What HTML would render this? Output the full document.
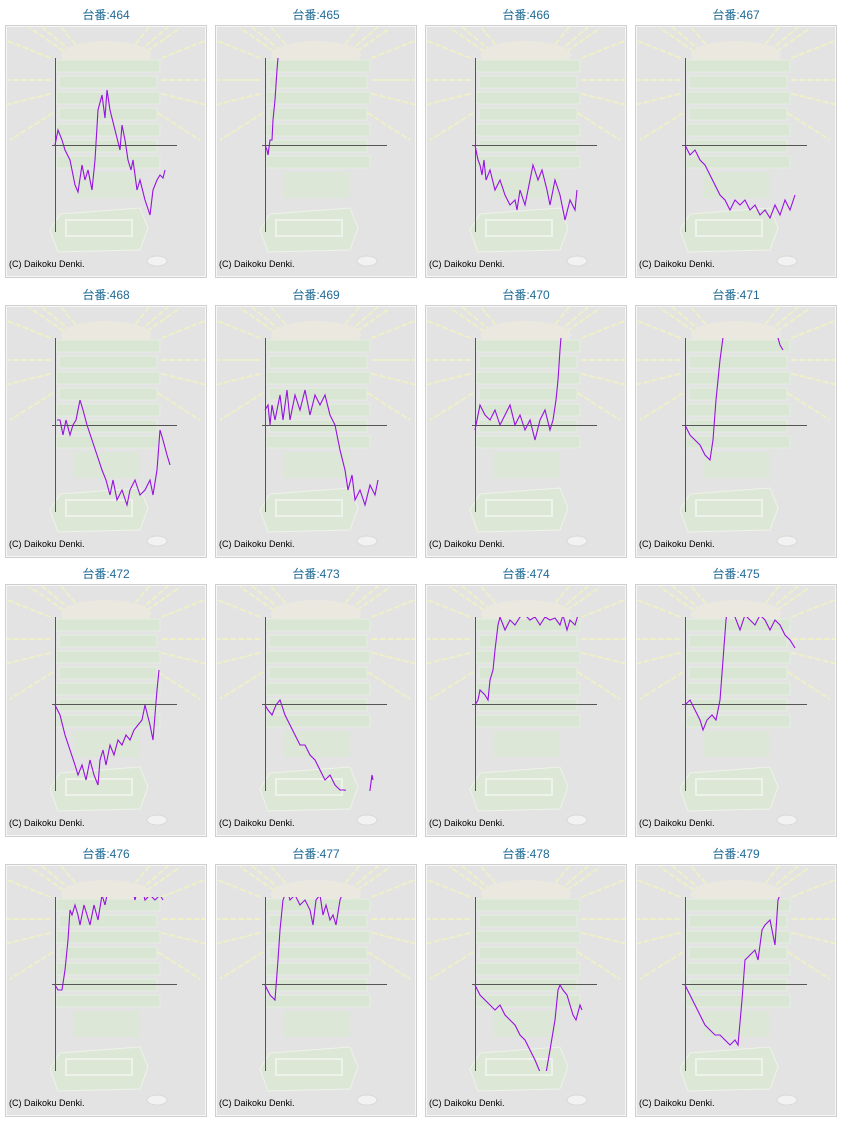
<!DOCTYPE html>
<html><head><meta charset="utf-8">
<style>
body{margin:0;background:#fff;width:842px;height:1121px;overflow:hidden;font-family:"Liberation Sans","Noto Sans CJK JP",sans-serif;}
.cell{position:absolute;width:210px;height:280px;}
.title{position:absolute;left:0;width:212px;top:6px;text-align:center;font-size:12px;color:#1f6a96;}
svg{position:absolute;left:0;top:0;}
</style></head><body>
<div id="root"></div>
<script>
const titles=["台番:464","台番:465","台番:466","台番:467","台番:468","台番:469","台番:470","台番:471","台番:472","台番:473","台番:474","台番:475","台番:476","台番:477","台番:478","台番:479"];
const seriesT=[
[0,3,7,10,15,20,23,27,30,33,37,40,43,47,50,52,55,60,65,67,70,73,76,78,82,85,90,95,98,102,105,108,110],
[0,2,3,5,7,8,10,12,13,14],
[0,3,5,7,9,11,15,20,25,30,35,40,42,45,50,55,58,63,67,72,75,80,85,90,95,100,102],
[0,5,10,15,20,25,30,35,40,45,50,55,60,65,70,75,80,85,90,95,100,105,110],
[2,5,8,11,15,18,21,25,28,32,37,42,47,51,55,58,62,67,72,75,80,85,90,95,98,102,105,108,112,115],
[0,3,5,7,10,15,18,22,25,30,35,40,45,50,55,60,65,70,75,80,83,87,90,95,100,105,110,113],
[0,5,10,15,20,25,30,35,40,45,50,55,60,65,70,75,78,81,83,85,87],
[0,5,10,15,20,25,28,31,35,39,45,60,75,90,93,95,98],
[0,5,10,15,20,23,27,31,35,39,43,45,48,51,55,59,63,67,71,75,79,83,87,90,95,98,100,102,104],
[0,3,7,11,15,20,25,30,35,40,45,50,55,60,65,70,75,80,83,90,100,105,107,108],
[0,3,5,10,13,15,18,20,23,25,30,35,40,45,50,55,60,65,70,75,80,85,88,92,95,100,103],
[0,5,10,15,18,22,27,31,35,38,41,43,47,50,55,60,65,70,75,80,85,90,95,100,105,110],
[0,3,7,10,13,15,17,20,23,25,29,32,35,39,43,47,50,55,60,65,70,75,80,85,90,95,100,105,108],
[0,5,10,13,15,18,22,25,30,35,40,45,48,51,55,58,61,65,68,71,75,77],
[0,5,10,15,20,25,30,35,40,45,50,55,60,65,70,75,80,83,85,88,92,95,98,101,105,107],
[0,5,10,15,20,25,30,35,40,45,50,53,57,60,65,70,73,77,80,85,90,93,95]];
const seriesV=[
[0,15,5,-5,-15,-40,-47,-20,-35,-25,-45,-15,35,50,27,55,35,15,-5,20,5,-15,-25,-15,-45,-35,-55,-70,-45,-35,-30,-33,-25],
[0,-5,-10,5,5,25,45,75,87,95],
[0,-15,-20,-30,-15,-35,-25,-45,-35,-50,-60,-55,-65,-45,-60,-35,-20,-35,-25,-45,-60,-35,-50,-75,-55,-65,-45],
[0,-10,-5,-15,-20,-30,-40,-50,-55,-65,-55,-60,-55,-65,-60,-70,-65,-73,-60,-70,-55,-65,-50],
[5,5,-10,5,-10,0,5,25,15,0,-15,-30,-45,-55,-70,-55,-75,-65,-80,-65,-55,-70,-65,-55,-70,-45,-5,-15,-30,-40],
[15,20,0,20,5,30,5,35,5,30,15,35,10,30,20,30,10,0,-25,-45,-65,-50,-75,-65,-80,-60,-70,-55],
[-5,20,10,5,15,0,10,20,0,10,-5,5,-15,5,15,-5,5,25,45,75,100],
[0,-10,-15,-20,-30,-35,-15,25,65,95,130,150,130,100,87,80,75],
[-1,-11,-31,-46,-61,-71,-61,-76,-56,-71,-81,-56,-46,-61,-41,-51,-36,-41,-31,-36,-26,-21,-16,-1,-21,-36,-11,14,34],
[-1,-6,-11,-1,4,-11,-21,-31,-41,-41,-51,-56,-66,-76,-71,-81,-86,-86,-96,-120,-120,-86,-71,-76],
[-1,4,14,9,4,24,34,54,79,87,74,84,79,87,89,84,87,79,87,84,86,79,89,74,84,79,89],
[-1,4,-6,-16,-26,-16,-11,-16,4,44,84,100,110,87,74,89,84,79,89,84,74,84,79,69,64,56],
[-1,-6,-6,14,44,74,69,79,69,59,79,69,59,79,64,89,79,104,94,114,94,104,84,104,84,89,84,89,84],
[-1,-11,-16,24,54,84,94,84,89,79,84,74,59,84,89,69,79,64,69,59,84,89],
[-1,-11,-16,-21,-26,-21,-31,-36,-41,-51,-56,-66,-76,-88,-95,-66,-36,-6,-1,-6,-11,-21,-31,-36,-21,-26],
[-1,-11,-21,-31,-41,-46,-51,-51,-56,-61,-56,-61,-16,24,29,34,24,54,59,64,39,84,89]];
const colX=[0,210,420,630], rowY=[0,280,559,839];
const xScale=t=>55+t, yScale=v=>145-v;
function deco(){
  let s='';
  const rays=[[5,40],[5,80],[5,105],[10,140],[30,28],[60,26],[150,26],[180,28],[207,40],[207,80],[207,105],[200,140],[42,27],[168,27]];
  rays.forEach(r=>{s+=`<line x1="${106+(r[0]-106)*0.55}" y1="${80+(r[1]-80)*0.55}" x2="${r[0]}" y2="${r[1]}" stroke="#efefc8" stroke-width="2" stroke-dasharray="6 2"/>`;});
  s+=`<ellipse cx="106" cy="55" rx="45" ry="14" fill="#ebe8e0"/>`;
  for(let i=0;i<7;i++){const y=60+i*16;s+=`<rect x="${56+(i%2)*3}" y="${y}" width="${104-(i%2)*6}" height="12" fill="#dae6d4" stroke="#e6ede2"/>`;}
  s+=`<rect x="74" y="172" width="66" height="26" fill="#dde7d8"/>`;
  s+=`<path d="M50 230 L60 214 L140 208 L148 228 L140 250 L58 252 Z" fill="#dce7d6" stroke="#eef2ea"/>`;
  s+=`<rect x="66" y="220" width="66" height="16" fill="none" stroke="#eef2ea" stroke-width="2"/>`;
  s+=`<ellipse cx="157" cy="261" rx="10" ry="5" fill="#f2f2f2" stroke="#d8d8d8"/>`;
  return s;
}
const root=document.getElementById('root');
titles.forEach((ti,k)=>{
  const c=document.createElement('div');
  
  
  c.className='cell';c.style.left=colX[k%4]+'px';c.style.top=rowY[Math.floor(k/4)]+'px';
  const pts=seriesT[k].map((t,i)=>xScale(t)+','+yScale(seriesV[k][i])).join(' ');
  c.innerHTML=`<div class="title">${ti}</div>
<svg width="210" height="280">
<clipPath id="bx${k}"><rect x="7" y="27" width="198" height="249"/></clipPath>
<rect x="5.5" y="25.5" width="201" height="252" fill="#e3e3e3" stroke="#cfcfcf"/>
<rect x="6.5" y="26.5" width="199" height="250" fill="none" stroke="#f6f6f6"/>
<g clip-path="url(#bx${k})">${deco()}</g>
<clipPath id="cp${k}"><rect x="52" y="58" width="160" height="174"/></clipPath>
<line x1="55.5" y1="58" x2="55.5" y2="232" stroke="#555"/>
<line x1="52" y1="145.5" x2="177" y2="145.5" stroke="#555"/>
<polyline points="${pts}" fill="none" stroke="#9612e0" stroke-width="1.1" clip-path="url(#cp${k})"/>
<text x="9" y="267" font-size="9" fill="#000" font-family="Liberation Sans, sans-serif">(C) Daikoku Denki.</text>
</svg>`;
  root.appendChild(c);
});
</script>
</body></html>
